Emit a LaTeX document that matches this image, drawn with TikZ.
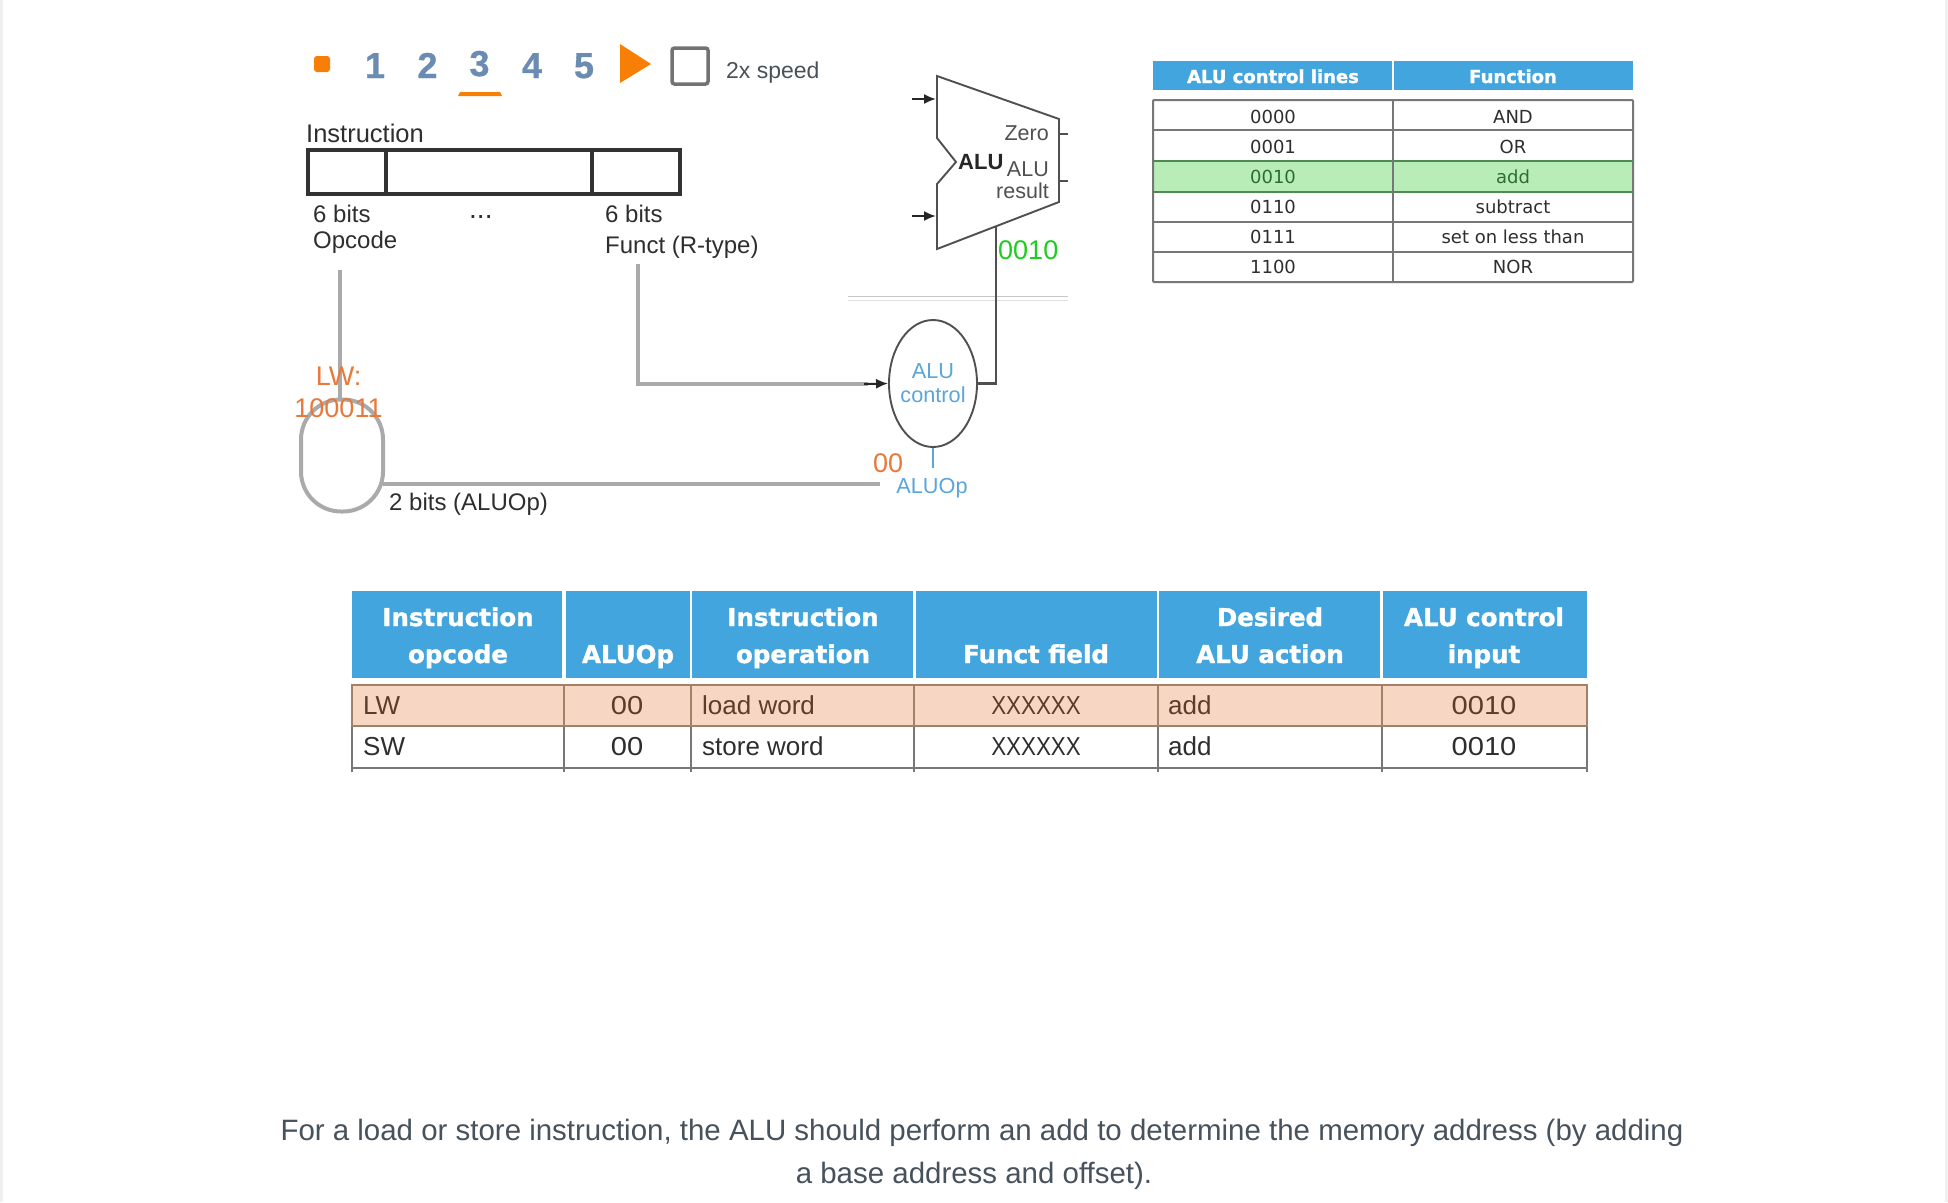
\documentclass[tikz,border=0pt]{standalone}
\usepackage{fontspec}
\usetikzlibrary{arrows.meta,shapes.geometric}
\setmainfont{Liberation Sans}
\newfontfamily\tblfont{DejaVu Sans}
\newfontfamily\heavyfont[FakeBold=1.4]{DejaVu Sans Bold}
\newfontfamily\heavydigit[FakeBold=0.8]{Liberation Sans Bold}
\definecolor{tblblue}{HTML}{42A5DD}
\definecolor{orangeA}{HTML}{F77F05}
\definecolor{orangeB}{HTML}{E8793A}
\definecolor{slateblue}{HTML}{6A8CB2}
\definecolor{wiregray}{HTML}{AAAAAA}
\definecolor{aluline}{HTML}{505050}
\definecolor{aluText}{HTML}{5AA5DA}
\definecolor{zgreen}{HTML}{1FCC1F}
\definecolor{rowgreen}{HTML}{B8EDB8}
\definecolor{greenline}{HTML}{4F8A52}
\definecolor{greentext}{HTML}{2F6B35}
\definecolor{rowpeach}{HTML}{F7D7C4}
\definecolor{peachline}{HTML}{A38068}
\definecolor{peachtxt}{HTML}{5C3D2A}
\definecolor{txtdark}{HTML}{2E2E2E}
\definecolor{txtsoft}{HTML}{47525C}
\definecolor{gridgray}{HTML}{777777}
\newcommand{\fs}[1]{\fontsize{#1}{#1}\selectfont}
\newcommand{\widedig}[1]{\scalebox{1.12}[1]{#1}}
\newcommand{\narrowx}[1]{\scalebox{0.86}[1]{#1}}
\tikzset{
  x=1pt,y=-1pt,
  tl/.style={inner sep=0pt,anchor=base west,text=txtdark,font=\fs{24}},
  tc/.style={inner sep=0pt,anchor=base,text=txtdark},
  tr/.style={inner sep=0pt,anchor=base east,text=aluline,font=\fs{21.5}},
  digit/.style={inner sep=0pt,anchor=base,text=slateblue,font=\heavydigit\fs{36}},
  wire/.style={draw=wiregray,line width=3.8pt},
  alustroke/.style={draw=aluline,line width=1.9pt},
  headA/.style={tc,text=white,font=\heavyfont\fs{18}},
  cellA/.style={tc,text=txtdark,font=\tblfont\fs{18}},
  headB/.style={tc,text=white,font=\heavyfont\fs{24.5}},
  cellB/.style={tc,text=txtdark,font=\fs{26}},
  cellBl/.style={inner sep=0pt,anchor=base west,text=txtdark,font=\fs{26}},
  hfill/.style={fill=tblblue,draw=none},
  miniarrow/.style={-{Latex[length=12pt,width=10pt]},draw=black!85,line width=2pt},
}
\begin{document}
\begin{tikzpicture}
\useasboundingbox (0,0) rectangle (1948,1202);
\fill[white] (0,0) rectangle (1948,1202);
% edges of the page
\fill[black!6] (0,0) rectangle (3,1202);
\fill[black!6] (1945,0) rectangle (1948,1202);
% toolbar
\fill[orangeA,rounded corners=3pt] (314,56) rectangle (330,72);
\node[digit] (d1) at (375,78) {1};
\node[digit] (d2) at (427.5,78) {2};
\node[digit] (d3) at (479.5,76) {3};
\node[digit] (d4) at (532,78) {4};
\node[digit] (d5) at (584,78) {5};
\fill[orangeA] (458,96) -- (460,92) -- (500,92) -- (502,96) -- cycle;
\fill[orangeA] (620,44) -- (651,64) -- (620,83) -- cycle;
\draw[draw=black!55,line width=3.5pt,rounded corners=2.5pt] (672,48) rectangle (708,84);
\node[tl,text=txtsoft,font=\fs{23}] (speed) at (726,78) {2x speed};
% instruction
\node[tl,font=\fs{25.5}] (instr) at (306,142) {Instruction};
\draw[draw=black!80,line width=3.6pt] (308,150) rectangle (680,194);
\draw[draw=black!80,line width=3.6pt] (386,150) -- (386,194);
\draw[draw=black!80,line width=3.6pt] (592,150) -- (592,194);
\node[tl] (b1) at (313,222) {6 bits};
\node[tl] (op) at (313,248) {Opcode};
\node[tl,font=\fs{28}] (dots) at (469,218) {...};
\node[tl] (b2) at (605,222) {6 bits};
\node[tl] (fn) at (605,253) {Funct (R-type)};
% ALU
\coordinate (a1) at (937,76);
\coordinate (a2) at (1059,119);
\coordinate (a3) at (1059,202);
\coordinate (a4) at (937,249);
\coordinate (a5) at (937,184);
\coordinate (a6) at (956,162);
\coordinate (a7) at (937,138);
\draw[alustroke,line join=miter] (a1)--(a2)--(a3)--(a4)--(a5)--(a6)--(a7)--cycle;
\coordinate (i1) at (912,99);
\coordinate (i1e) at (936,99);
\coordinate (i2) at (912,216);
\coordinate (i2e) at (936,216);
\draw[miniarrow] (i1) -- (i1e);
\draw[miniarrow] (i2) -- (i2e);
\coordinate (z1) at (1059,134);
\coordinate (z2) at (1068,134);
\coordinate (r1) at (1059,181);
\coordinate (r2) at (1068,181);
\draw[alustroke,line width=1.2pt] (z1) -- (z2);
\draw[alustroke,line width=1.2pt] (r1) -- (r2);
\node[tr] (zero) at (1049,140) {Zero};
\node[inner sep=0pt,anchor=base west,text=black!85,font=\fs{22}\bfseries] (alub) at (958,169) {ALU};
\node[tr] (alun) at (1049,176) {ALU};
\node[tr] (res) at (1049,198) {result};
% light rules
\coordinate (h1) at (848,296);
\coordinate (h2) at (1068,296);
\coordinate (h3) at (848,300);
\coordinate (h4) at (1068,300);
\draw[draw=black!22,line width=0.9pt] (h1) -- (h2);
\draw[draw=black!12,line width=0.9pt] (h3) -- (h4);
% ALU control
\node[draw=aluline,line width=1.9pt,ellipse,minimum width=88pt,minimum height=127pt,inner sep=0pt] (ctrl) at (933,383.5) {};
\coordinate (aluB) at (996,227);
\draw[draw=aluline,line width=2.8pt] (ctrl.east) -| (aluB);
\node[tc,text=aluText,font=\fs{21.7}] (t1) at (933,378) {ALU};
\node[tc,text=aluText,font=\fs{21.7}] (t2) at (933,402) {control};
\coordinate (tick) at (933,468);
\draw[draw=aluText,line width=1.5pt] (ctrl.south) -- (tick);
\node[tc,text=aluText,font=\fs{21.7}] (aluop) at (932,493) {ALUOp};
\node[inner sep=0pt,anchor=base west,text=zgreen,font=\fs{27}] (g) at (998,259) {0010};
\node[inner sep=0pt,anchor=base west,text=orangeB,font=\fs{27}] (oo) at (873,472) {00};
% wires
\node[draw=wiregray,line width=4pt,rounded corners=40pt,minimum width=82pt,minimum height=112pt,inner sep=0pt] (ov) at (342,455.5) {};
\coordinate (o1) at (340,270);
\coordinate (o2) at (340,399);
\draw[wire] (o1) -- (o2);
\coordinate (f1) at (638,264);
\coordinate (f2) at (868,384);
\draw[wire] (f1) |- (f2);
\coordinate (f3) at (864,384);
\draw[miniarrow] (f3) -- (ctrl.west);
\coordinate (s1) at (383,484);
\coordinate (s2) at (880,484);
\draw[draw=wiregray,line width=4.4pt] (s1) -- (s2);
\node[tl,font=\fs{24}] (bits2) at (389,510) {2 bits (ALUOp)};
\node[tc,text=orangeB,font=\fs{27}] (lw) at (338.5,385) {LW:};
\node[tc,text=orangeB,font=\fs{27}] (lwc) at (338.5,417) {100011};
% ALU control table
\fill[hfill] (1153,61) rectangle (1633,90);
\fill[white] (1392,61) rectangle (1394,90);
\node[headA] (ha) at (1273,83) {ALU control lines};
\node[headA] (hb) at (1513,83) {Function};
\fill[rowgreen] (1153,161) rectangle (1633,192);
\draw[draw=gridgray,line width=2pt,rounded corners=1pt] (1153,100) rectangle (1633,282);
\foreach \yy in {130,222,252} \draw[draw=gridgray,line width=2pt] (1153,\yy) -- (1633,\yy);
\foreach \yy in {161,192} \draw[draw=greenline,line width=2pt] (1153,\yy) -- (1633,\yy);
\draw[draw=gridgray,line width=2pt] (1393,100) -- (1393,282);
\node[cellA] (c1) at (1273,123) {0000};
\node[cellA] (f1t) at (1513,123) {AND};
\node[cellA] (c2) at (1273,153) {0001};
\node[cellA] (f2t) at (1513,153) {OR};
\node[cellA,text=greentext] (c3) at (1273,183) {0010};
\node[cellA,text=greentext] (f3t) at (1513,183) {add};
\node[cellA] (c4) at (1273,213) {0110};
\node[cellA] (f4t) at (1513,213) {subtract};
\node[cellA] (c5) at (1273,243) {0111};
\node[cellA] (f5t) at (1513,243) {set on less than};
\node[cellA] (c6) at (1273,273) {1100};
\node[cellA] (f6t) at (1513,273) {NOR};
% big table header
\fill[hfill] (352,591) rectangle (562,678);
\fill[hfill] (566,591) rectangle (690,678);
\fill[hfill] (692,591) rectangle (913,678);
\fill[hfill] (916,591) rectangle (1157,678);
\fill[hfill] (1159,591) rectangle (1380,678);
\fill[hfill] (1383,591) rectangle (1587,678);
\node[headB] (h11) at (458,626) {Instruction};
\node[headB] (h12) at (458,663) {opcode};
\node[headB] (h2t) at (628,663) {ALUOp};
\node[headB] (h31) at (803,626) {Instruction};
\node[headB] (h32) at (803,663) {operation};
\node[headB] (h4t) at (1036,663) {Funct field};
\node[headB] (h51) at (1270,626) {Desired};
\node[headB] (h52) at (1270,663) {ALU action};
\node[headB] (h61) at (1484,626) {ALU control};
\node[headB] (h62) at (1484,663) {input};
% big table body
\foreach \xx in {352,564,691,914,1158,1382,1587} \draw[draw=gridgray,line width=1.6pt] (\xx,726) -- (\xx,772);
\draw[draw=gridgray,line width=1.6pt] (352,768) -- (1587,768);
\fill[rowpeach] (352,685) rectangle (1587,726);
\draw[draw=peachline,line width=1.8pt] (352,685) rectangle (1587,726);
\foreach \xx in {564,691,914,1158,1382} \draw[draw=peachline,line width=1.6pt] (\xx,685) -- (\xx,726);
\node[cellBl,text=peachtxt] (r1a) at (363,714) {LW};
\node[cellB,text=peachtxt] (r1b) at (627,714) {\widedig{00}};
\node[cellBl,text=peachtxt] (r1c) at (702,714) {load word};
\node[cellB,text=peachtxt] (r1d) at (1036,714) {\narrowx{XXXXXX}};
\node[cellBl,text=peachtxt] (r1e) at (1168,714) {add};
\node[cellB,text=peachtxt] (r1f) at (1484,714) {\widedig{0010}};
\node[cellBl] (r2a) at (363,755) {SW};
\node[cellB] (r2b) at (627,755) {\widedig{00}};
\node[cellBl] (r2c) at (702,755) {store word};
\node[cellB] (r2d) at (1036,755) {\narrowx{XXXXXX}};
\node[cellBl] (r2e) at (1168,755) {add};
\node[cellB] (r2f) at (1484,755) {\widedig{0010}};
% caption
\node[tc,text=txtsoft,font=\fs{29.45}] (cap1) at (982,1140) {For a load or store instruction, the ALU should perform an add to determine the memory address (by adding};
\node[tc,text=txtsoft,font=\fs{29.45}] (cap2) at (974,1183) {a base address and offset).};
\end{tikzpicture}
\end{document}
